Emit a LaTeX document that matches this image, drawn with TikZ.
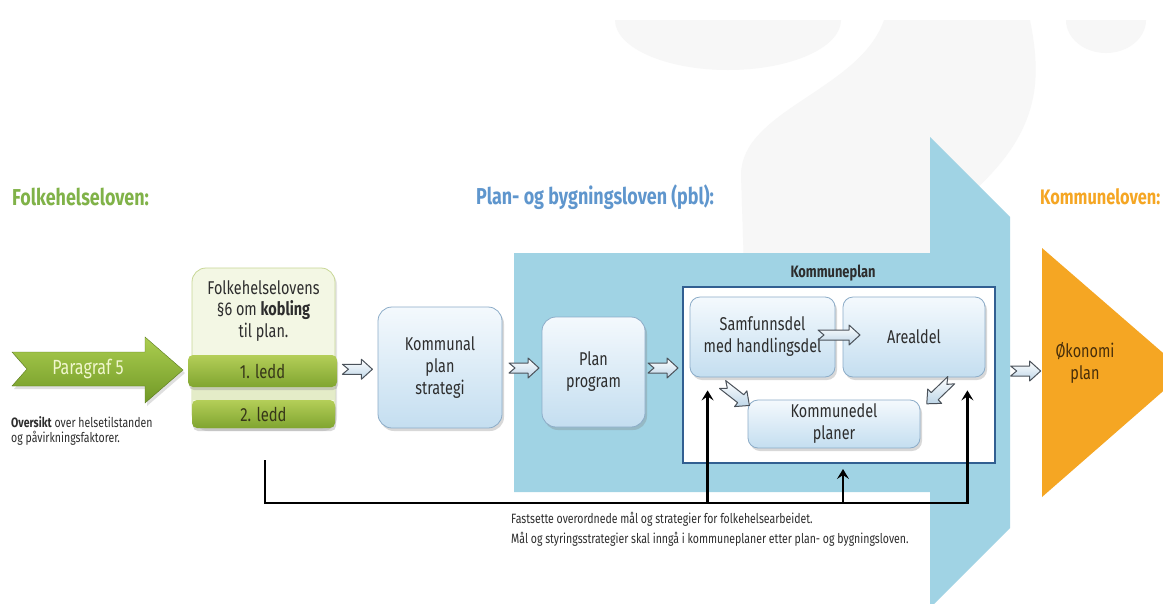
\documentclass[tikz,border=0pt]{standalone}
\usepackage{fontspec}
\setmainfont{Fira Sans}[FakeStretch=0.78]
\usetikzlibrary{arrows.meta,shadows,calc}
\definecolor{ttgreen}{RGB}{128,178,72}
\definecolor{ttblue}{RGB}{95,150,205}
\definecolor{ttorange}{RGB}{245,166,35}
\definecolor{pblblue}{RGB}{160,211,228}
\definecolor{korange}{RGB}{245,166,35}
\definecolor{wm}{RGB}{247,247,247}
\definecolor{txt}{RGB}{45,45,45}
\definecolor{boxedge}{RGB}{140,172,200}
\definecolor{boxtop}{RGB}{244,249,253}
\definecolor{boxbot}{RGB}{196,222,240}
\definecolor{kpedge}{RGB}{50,95,145}
\definecolor{fhfill}{RGB}{243,247,228}
\definecolor{fhedge}{RGB}{200,215,150}
\definecolor{stripfill}{RGB}{228,236,200}
\definecolor{leddtop}{RGB}{180,206,88}
\definecolor{leddbot}{RGB}{128,165,48}
\definecolor{leddtxt}{RGB}{55,55,25}
\definecolor{p5top}{RGB}{172,206,80}
\definecolor{p5bot}{RGB}{112,152,38}
\definecolor{p5txt}{RGB}{240,246,205}
\definecolor{arredge}{RGB}{75,82,90}
\definecolor{arrbot}{RGB}{190,214,232}
\definecolor{oktxt}{RGB}{70,45,10}
\tikzset{
  bluebox/.style={draw=boxedge, line width=0.8pt, rounded corners=14pt,
    top color=boxtop, bottom color=boxbot,
    drop shadow={opacity=0.3,shadow xshift=2pt,shadow yshift=-3pt},
    align=center, text=txt, inner sep=0pt, font=\fontsize{18.5}{22}\selectfont},
  innerbox/.style={draw=boxedge, line width=0.8pt, rounded corners=10pt,
    top color=boxtop, bottom color=boxbot,
    drop shadow={opacity=0.3,shadow xshift=2pt,shadow yshift=-3pt},
    align=center, text=txt, inner sep=0pt, font=\fontsize{18.5}{22}\selectfont},
  leddbar/.style={rounded corners=5pt, top color=leddtop, bottom color=leddbot,
    drop shadow={opacity=0.3,shadow xshift=1pt,shadow yshift=-3pt},
    text=leddtxt, inner sep=0pt, font=\fontsize{19}{22}\selectfont},
  title/.style={anchor=west, font=\bfseries\fontsize{23}{26}\selectfont, inner sep=0pt},
  smallarr/.style={draw=arredge, line width=1pt, line join=round,
    top color=white, bottom color=arrbot},
  fb/.style={line width=2.5pt, black, line join=miter},
  fbtip/.style={-{Stealth[length=10pt,width=12pt,inset=4pt]}},
  note/.style={anchor=north west, align=left, text=txt, inner sep=0pt}
}
\newcommand\bluearr[3]{\draw[smallarr,shift={#1},rotate=#2] (-#3,-5) -- ({#3-11},-5) -- ({#3-11},-10) -- (#3,0) -- ({#3-11},10) -- ({#3-11},5) -- (-#3,5) -- ({-#3+6},0) -- cycle;}
\begin{document}
\begin{tikzpicture}[x=1pt,y=-1pt]
\useasboundingbox (0,0) rectangle (1163,603);
\clip (0,0) rectangle (1163,603);
\fill[white] (0,0) rectangle (1163,603);
% watermark
\begin{scope}
  \clip (0,20) rectangle (1163,603);
  \fill[wm] (728,20) ellipse [x radius=113, y radius=50];
  \fill[wm] (1106,20) ellipse [x radius=40, y radius=33];
  \fill[wm] (745,300) -- (741,175) .. controls (741,110) and (860,90) .. (884,20) -- (1030,20) .. controls (1042,80) and (1040,130) .. (975,190) -- (960,300) -- cycle;
\end{scope}
% big blue arrow (pbl)
\fill[pblblue] (514,253) -- (930,253) -- (930,137) -- (1010,217) -- (1010,528) -- (930,608) -- (930,492) -- (514,492) -- cycle;
% orange triangle (kommuneloven)
\fill[korange] (1042,248) -- (1185,372) -- (1042,497) -- cycle;
% titles
\node[title, text=ttgreen] (t1) at (12,197) {Folkehelseloven:};
\node[title, text=ttblue] (t2) at (476,197) {Plan- og bygningsloven (pbl):};
\node[title, text=ttorange, font=\bfseries\fontsize{21}{24}\selectfont] (t3) at (1040,197) {Kommuneloven:};
% Paragraf 5 arrow
\path[top color=p5top, bottom color=p5bot, draw=p5bot!80!black, line width=0.4pt,
  drop shadow={opacity=0.25,shadow xshift=2pt,shadow yshift=-3pt}]
  (12,352) -- (145,352) -- (145,337) -- (183,370) -- (145,403) -- (145,386) -- (12,386) -- (27,369) -- cycle;
\node[text=p5txt, font=\fontsize{20.5}{22}\selectfont, inner sep=0pt] (p5) at (88,369) {Paragraf 5};
\node[note, font=\fontsize{13.5}{15}\selectfont] (ov) at (11,416) {\textbf{Oversikt} over helsetilstanden\\og påvirkningsfaktorer.};
% Folkehelselovens box
\node[draw=fhedge, line width=0.8pt, fill=fhfill, rounded corners=14pt,
  minimum width=143pt, minimum height=160pt, inner sep=0pt,
  drop shadow={opacity=0.2,shadow xshift=2pt,shadow yshift=-3pt}] (fh) at (263.5,348) {};
\node[align=center, text=txt, inner sep=0pt, font=\fontsize{18.5}{21.5}\selectfont] (fht) at (263.5,311) {Folkehelselovens\\§6 om \textbf{kobling}\\til plan.};
\fill[stripfill] (193,387) rectangle (334,400);
\node[leddbar, minimum width=149pt, minimum height=32pt] (l1) at (262.5,371) {1. ledd};
\node[leddbar, minimum width=143pt, minimum height=28pt] (l2) at (263.5,414) {2. ledd};
% Kommunal plan strategi
\node[bluebox, minimum width=124pt, minimum height=121pt] (kps) at (440,367.5) {Kommunal\\plan\\strategi};
% Plan program
\node[bluebox, minimum width=103pt, minimum height=110pt] (pp) at (593.5,372) {Plan\\program};
% Kommuneplan
\node[draw=kpedge, line width=2pt, fill=white, minimum width=312pt, minimum height=176pt, inner sep=0pt] (kp) at (839,375) {};
\node[font=\bfseries\fontsize{16.5}{18}\selectfont, text=txt, inner sep=0pt] (kpt) at (833,273) {Kommuneplan};
\node[innerbox, minimum width=145pt, minimum height=80pt] (samf) at (762.5,337) {Samfunnsdel\\med handlingsdel};
\node[innerbox, minimum width=142pt, minimum height=80pt] (areal) at (914,337) {Arealdel};
\node[innerbox, minimum width=172pt, minimum height=48pt] (kdel) at (834,424) {Kommunedel\\planer};
% Okonomi plan
\node[align=center, text=oktxt, inner sep=0pt, font=\fontsize{18.5}{22}\selectfont] (ok) at (1085,363) {Økonomi\\plan};
% small block arrows
\bluearr{($(l1.east)!0.5!(kps.west)$)}{0}{15}
\bluearr{(524,368)}{0}{15}
\bluearr{(663,368)}{0}{15}
\bluearr{($(samf.east)!0.5!(areal.west)+(0,-2)$)}{0}{21}
\bluearr{(736,395)}{-38}{17}
\bluearr{(939,392)}{-136}{17}
\bluearr{($(kp.east)!0.5!(ok.west)+(0,2)$)}{0}{15}
% feedback lines
\coordinate (src) at ($(fh.south)+(1.5,32)$);
\coordinate (tA) at ($(samf.south west)+(18,13)$);
\coordinate (tB) at ($(kp.south)+(4,5)$);
\coordinate (tC) at ($(areal.south east)+(-18,13)$);
\coordinate (jA) at (tA |- 0,503);
\coordinate (jB) at (tB |- 0,503);
\coordinate (jC) at (tC |- 0,503);
\draw[fb, fbtip] (src) |- (jC) -- (tC);
\draw[fb, fbtip] (jA) -- (tA);
\draw[fb, fbtip] (jB) -- (tB);
\node[note, font=\fontsize{13.5}{20}\selectfont] (fs) at (511,512) {Fastsette overordnede mål og strategier for folkehelsearbeidet.\\Mål og styringsstrategier skal inngå i kommuneplaner etter plan- og bygningsloven.};
\end{tikzpicture}
\end{document}
